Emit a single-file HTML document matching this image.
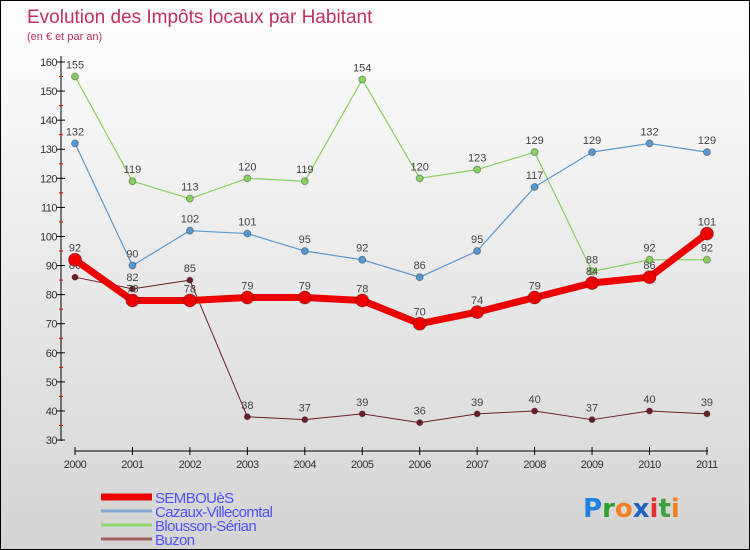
<!DOCTYPE html>
<html><head><meta charset="utf-8"><style>
body{margin:0}
#c{width:748px;height:548px;border:1px solid #000;background:linear-gradient(#fff 0%,#f4f4f4 25%,#d4d4d4 100%);position:relative;font-family:"Liberation Sans",sans-serif;overflow:hidden}
</style></head><body>
<div id="c">
<svg id="s" width="748" height="548"></svg>
</div>
<script>
const years=["2000","2001","2002","2003","2004","2005","2006","2007","2008","2009","2010","2011"];
const semboues=[92,78,78,79,79,78,70,74,79,84,86,101];
const cazaux=[132,90,102,101,95,92,86,95,117,129,132,129];
const blousson=[155,119,113,120,119,154,120,123,129,88,92,92];
const buzon=[86,82,85,38,37,39,36,39,40,37,40,39];
const yTicks=[30,40,50,60,70,80,90,100,110,120,130,140,150,160];
const NS="http://www.w3.org/2000/svg";
const svg=document.getElementById('s');
function X(i){return 74+i*57.45;}
function Y(v){return 61+(160-v)*2.908;}
function mk(t,a,p){const e=document.createElementNS(NS,t);for(const k in a)e.setAttribute(k,a[k]);(p||svg).appendChild(e);return e;}
function txt(x,y,s,a){const e=mk('text',Object.assign({x:x,y:y},a));e.textContent=s;return e;}
let t=txt(26,22,"Evolution des Impôts locaux par Habitant",{fill:"#c0305a","font-size":19});

t=txt(26,39,"(en € et par an)",{fill:"#c0305a","font-size":11});

// axes
let ax=mk('line',{x1:60,y1:55,x2:60,y2:440,stroke:"#000"});

yTicks.forEach(v=>{mk('line',{x1:56,y1:Y(v),x2:64,y2:Y(v),stroke:"#000"});
 if(v<160)mk('line',{x1:58,y1:Y(v+5),x2:62,y2:Y(v+5),stroke:"#e00"});
 const l=txt(56,Y(v)+4,v,{fill:"#333","font-size":11,"text-anchor":"end","letter-spacing":"-0.5"});
 });
ax=mk('line',{x1:74,y1:450,x2:707,y2:450,stroke:"#000"});

years.forEach((y,i)=>{mk('line',{x1:X(i),y1:446,x2:X(i),y2:454,stroke:"#000"});
 const l=txt(X(i),467,y,{fill:"#333","font-size":11,"text-anchor":"middle","letter-spacing":"-0.5"});
 });
function series(data,color,w,r,name,labels){
 const g=mk('g',{});
 mk('polyline',{points:data.map((v,i)=>X(i)+","+Y(v)).join(" "),fill:"none",stroke:color,"stroke-width":w,"stroke-linejoin":"round"},g);
 data.forEach((v,i)=>{const c=mk('circle',{cx:X(i),cy:Y(v),r:r,fill:color,stroke:"rgba(0,0,0,0.3)"},g);
  
  const l=txt(X(i),Y(v)-8,v,{fill:"#444","font-size":11,"text-anchor":"middle"},g);
  });
}
series(buzon,"#6b1e24",1,3,"buzon");
series(blousson,"#88d060",1.2,3.5,"blousson");
series(cazaux,"#5898d0",1.2,3.5,"cazaux");
series(semboues,"#ee0000",7,6.5,"sembouès");
// legend
const leg=[["SEMBOUèS","#ee0000",7],["Cazaux-Villecomtal","#80a8d0",3],["Blousson-Sérian","#90d870",3],["Buzon","#a06060",3]];
leg.forEach((d,i)=>{const y=496+i*14;
 const g=mk('g',{});
 mk('line',{x1:100,y1:y,x2:151,y2:y,stroke:d[1],"stroke-width":d[2]},g);
 txt(154,y+6,d[0],{fill:"#5050ff","font-size":15,"letter-spacing":"-0.6"},g);});
const lg=mk('text',{x:582,y:516,"font-size":26,"font-family":"DejaVu Sans, sans-serif","font-weight":"bold"});

[["P","#2080e0"],["r","#30a030"],["o","#f08020"],["x","#2060c0"],["i","#e03030"],["t","#40a040"],["i","#f08020"]].forEach(p=>{const s=mk('tspan',{fill:p[1]},lg);s.textContent=p[0];});
</script>
</body></html>
